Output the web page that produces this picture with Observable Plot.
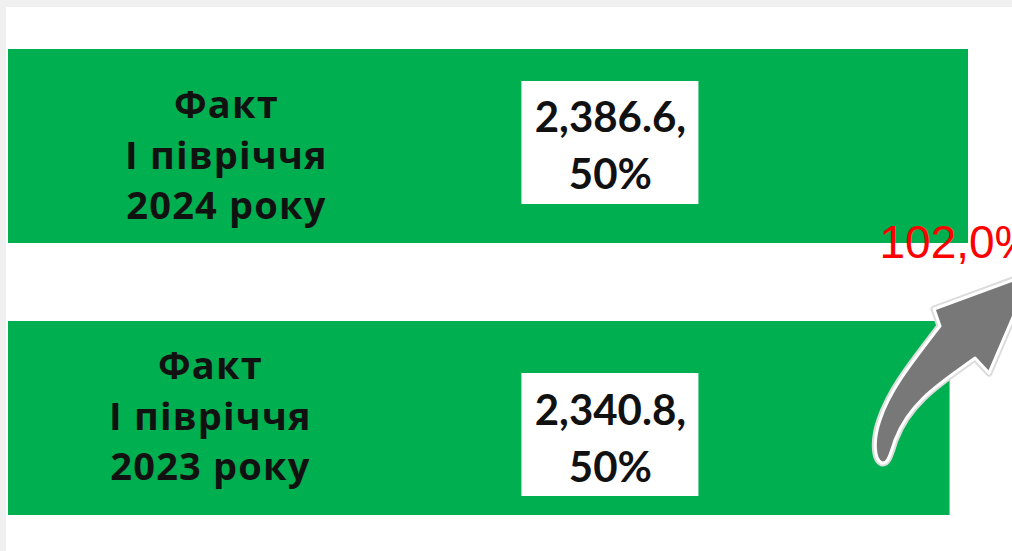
<!DOCTYPE html>
<html>
<head>
<meta charset="utf-8">
<script src="https://cdn.jsdelivr.net/npm/d3@7"></script>
<script src="https://cdn.jsdelivr.net/npm/@observablehq/plot@0.6"></script>
<style>
  html, body { margin: 0; padding: 0; background: #f0f0f0; overflow: hidden; width: 1012px; height: 551px; }
  #chart { position: absolute; left: 6px; top: 7px; }
  #chart .cat text { letter-spacing: 1.2px; }
</style>
</head>
<body>
<div id="chart"></div>
<script>
// ---- data ----
const periods = ["2024", "2023"];
const categoryLabels = ["Факт\nI півріччя\n2024 року", "Факт\nI півріччя\n2023 року"];
const values = [2386.6, 2340.8];
const shares = [50, 50];
const growthLabel = ["102,0%"];

const rows = periods.map((p, i) => ({period: p, label: categoryLabels[i], value: values[i], share: shares[i]}));
const fmt = d3.format(",.1f");
const maxV = d3.max(values);

// per-row layout offsets (style only)
const catDx = [1, -15], catDy = [6, -5];
const valDy = [-4, 17];
const boxInsetTop = [32, 52], boxInsetBottom = [39, 19];
const valueCenter = maxV * 0.627;
const boxHalf = 220;

const perRow = rows.flatMap((r, i) => [
  Plot.rectX([r], {x1: valueCenter - boxHalf, x2: valueCenter + boxHalf, y: "period", fill: "white",
    insetTop: boxInsetTop[i], insetBottom: boxInsetBottom[i]}),
  Plot.text([r], {x: maxV * 0.226, y: "period", text: "label", dx: catDx[i], dy: catDy[i], className: "cat",
    fontSize: 38, fontWeight: 700, fill: "#111", lineHeight: 1.33, fontFamily: "Open Sans"}),
  Plot.text([r], {x: valueCenter, y: "period", text: d => `${fmt(d.value)},\n${d.share}%`, dy: valDy[i],
    fontSize: 42, fontWeight: "bold", fill: "#111", lineHeight: 1.36, fontFamily: "Lato"})
]);

// decorative curved arrow (drawn in pixel space relative to frame)
function arrowMark(index, scales) {
  const g = d3.create("svg:g");
  const d = "M 876 456 C 868 453, 867 433, 874 413 C 884 383, 904 358, 934 319 L 928 302 L 1026 266 L 983 366 L 969 351 C 939 373, 904 393, 889 433 C 884 448, 882 457, 876 456 Z";
  g.append("path").attr("d", d).attr("fill", "none").attr("stroke", "#dcdcdc").attr("stroke-width", 7).attr("stroke-linejoin", "round");
  g.append("path").attr("d", d).attr("fill", "#787878").attr("stroke", "#ffffff").attr("stroke-width", 3).attr("stroke-linejoin", "round");
  return g.node();
}

const chart = Plot.plot({
  width: 1006,
  height: 544,
  margin: 0,
  style: {background: "white", overflow: "hidden"},
  x: {domain: [0, maxV], range: [2, 962], axis: null},
  y: {domain: periods, range: [42, 508], paddingInner: 0.287, paddingOuter: 0, axis: null},
  marks: [
    Plot.barX(rows, {x: "value", y: "period", fill: "#00b050"}),
    ...perRow,
    arrowMark,
    Plot.text(growthLabel, {x: maxV, y: () => periods[0], text: d => d, dx: -89, dy: 97, textAnchor: "start",
      fontSize: 46, fill: "#ff0000", fontFamily: "Liberation Sans"})
  ]
});
document.getElementById("chart").appendChild(chart);
</script>
</body>
</html>
